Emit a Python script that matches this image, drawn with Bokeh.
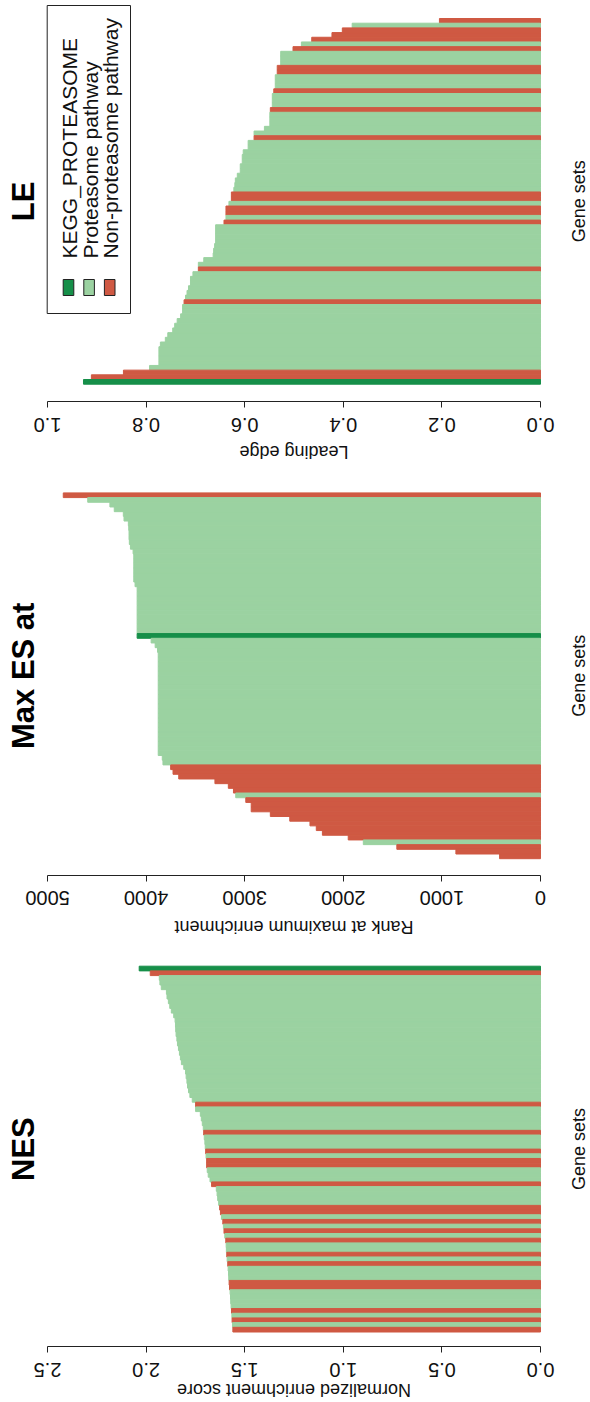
import math
from bokeh.plotting import figure
from bokeh.models import (ColumnDataSource, Range1d, FixedTicker, Label, LabelSet,
                          BoxAnnotation, CustomJSTickFormatter)
from bokeh.core.properties import value
from bokeh.layouts import column
from bokeh.embed import file_html
from bokeh.resources import INLINE

FONT = "Liberation Sans"

# ---------------- data ----------------
legend_names = ["KEGG_PROTEASOME", "Proteasome pathway", "Non-proteasome pathway"]
group_codes = ["K", "P", "N"]
group_colors = ["#168F49", "#9BD2A1", "#CF5943"]

panel_titles = ["LE", "Max ES at", "NES"]
axis_titles = ["Leading edge", "Rank at maximum enrichment", "Normalized enrichment score"]
bar_axis_title = "Gene sets"

le_ticks = [0, 0.2, 0.4, 0.6, 0.8, 1.0]
le_tick_labels = ["0.0", "0.2", "0.4", "0.6", "0.8", "1.0"]
maxes_ticks = [0, 1000, 2000, 3000, 4000, 5000]
maxes_tick_labels = ["0", "1000", "2000", "3000", "4000", "5000"]
nes_ticks = [0, 0.5, 1.0, 1.5, 2.0, 2.5]
nes_tick_labels = ["0.0", "0.5", "1.0", "1.5", "2.0", "2.5"]

# gene sets listed in drawing order, top to bottom
le_groups = list("NPNNNPNPPP" "NNPPPNPPPN" "PPPPPNPPPP" "PPPPPPPNNP"
                 "NNPNPPPPPP" "PPPNPPPPPP" "NPPPPPPPPP" "PPPPPNNK")
le_values = [0.205, 0.382, 0.402, 0.423, 0.464, 0.485, 0.502, 0.527, 0.527, 0.527,
             0.534, 0.534, 0.538, 0.538, 0.538, 0.541, 0.544, 0.544, 0.544, 0.548,
             0.549, 0.549, 0.549, 0.560, 0.581, 0.581, 0.593, 0.593, 0.603, 0.605,
             0.605, 0.609, 0.609, 0.615, 0.619, 0.620, 0.622, 0.627, 0.627, 0.632,
             0.638, 0.638, 0.638, 0.642, 0.659, 0.659, 0.659, 0.659, 0.661, 0.663,
             0.664, 0.683, 0.694, 0.694, 0.705, 0.710, 0.710, 0.714, 0.717, 0.720,
             0.723, 0.726, 0.726, 0.730, 0.737, 0.742, 0.746, 0.756, 0.761, 0.771,
             0.774, 0.774, 0.774, 0.774, 0.793, 0.846, 0.911, 0.927]

maxes_groups = list("N" "PPPPPPPPPPPPPPPPPPPPPPPPPPPPP" "K"
                    "PPPPPPPPPPPPPPPPPPPPPPPPPPP" "NNNNNN" "P" "NNNNNNNNN" "P" "NNN")
maxes_values = [4840, 4592, 4367, 4323, 4231, 4224, 4180, 4176, 4173, 4173,
                4170, 4159, 4132, 4125, 4125, 4125, 4125, 4125, 4125, 4112,
                4091, 4091, 4091, 4091, 4091, 4091, 4091, 4091, 4091, 4091,
                4091, 3949, 3908, 3884, 3877, 3877, 3877, 3877, 3877, 3877,
                3877, 3877, 3877, 3877, 3877, 3877, 3877, 3877, 3877, 3877,
                3877, 3877, 3877, 3877, 3877, 3877, 3836, 3829, 3751, 3727,
                3669, 3302, 3166, 3114, 3091, 2989, 2934, 2934, 2740, 2543,
                2338, 2274, 2212, 1950, 1797, 1457, 858, 415]

nes_groups = list("KN" "PPPPPPPPPPPPPPPPPPPPPPPPPPP" "N" "PPPPP" "N" "PPP" "N" "P" "NN"
                  "PPP" "N" "PPPP" "NN" "P" "N" "P" "N" "P" "N" "PP" "N" "P" "N" "PPP"
                  "NN" "PPPP" "N" "P" "N" "P" "N")
nes_values = [2.035, 1.979, 1.933, 1.930, 1.923, 1.897, 1.894, 1.887, 1.880, 1.872,
              1.860, 1.853, 1.851, 1.850, 1.848, 1.844, 1.841, 1.836, 1.831, 1.826,
              1.821, 1.809, 1.800, 1.797, 1.793, 1.790, 1.785, 1.778, 1.766, 1.749,
              1.749, 1.725, 1.720, 1.715, 1.710, 1.708, 1.705, 1.702, 1.700, 1.698,
              1.696, 1.693, 1.693, 1.690, 1.685, 1.676, 1.668, 1.644, 1.640, 1.637,
              1.632, 1.627, 1.623, 1.618, 1.611, 1.608, 1.605, 1.601, 1.596, 1.594,
              1.593, 1.591, 1.589, 1.586, 1.584, 1.582, 1.581, 1.579, 1.577, 1.574,
              1.572, 1.571, 1.569, 1.567, 1.565, 1.564, 1.562, 1.560]

# ---------------- layout constants (pixels) ----------------
FIG_W = 590
ZERO_PX = 540      # x pixel of value 0
MAX_PX = 47        # x pixel of the last tick


def make_panel(values, groups, ticks, tick_labels, title, axis_title,
               fig_h, bar_top, bar_bottom, axis_py, tick_py, atitle_py):
    n = len(values)
    xmax = ticks[-1]
    k = (ZERO_PX - MAX_PX) / xmax
    x_start = xmax + MAX_PX / k
    x_end = -(FIG_W - ZERO_PX) / k
    unit = (bar_bottom - bar_top) / n
    y_end = n + bar_top / unit
    y_start = y_end - fig_h / unit

    p = figure(width=FIG_W, height=fig_h,
               x_range=Range1d(x_start, x_end),
               y_range=Range1d(y_start, y_end),
               output_backend="svg", toolbar_location=None,
               x_axis_location="above", y_axis_location=None,
               min_border_left=0, min_border_right=0,
               min_border_top=0, min_border_bottom=0)
    p.outline_line_color = None
    p.grid.visible = False
    p.background_fill_color = "white"
    p.border_fill_color = "white"

    colors = [group_colors[group_codes.index(g)] for g in groups]
    ys = [n - i - 0.5 for i in range(n)]
    src = ColumnDataSource(dict(y=ys, v=values, color=colors))
    p.hbar(y="y", left=0, right="v", height=1.0, fill_color="color",
           line_color="color", line_width=1.0, source=src)

    # value axis: drawn at a fixed data location, ticks pointing downward
    ax = p.xaxis[0]
    ax.fixed_location = y_end - axis_py / unit
    ax.bounds = (ticks[0], ticks[-1])
    ax.ticker = FixedTicker(ticks=ticks, minor_ticks=[])
    ax.formatter = CustomJSTickFormatter(code="return ''")
    ax.major_label_text_font_size = "0px"
    ax.major_label_standoff = 0
    ax.major_tick_out = 0
    ax.major_tick_in = 6
    ax.minor_tick_out = 0
    ax.minor_tick_in = 0
    ax.axis_line_color = "#222222"
    ax.major_tick_line_color = "#222222"
    ax.axis_line_width = 1
    ax.axis_label = None

    # upside-down tick labels at the tick values
    tsrc = ColumnDataSource(dict(x=ticks, text=tick_labels))
    p.add_layout(LabelSet(x="x", y=fig_h - tick_py, y_units="screen", text="text", source=tsrc,
                          angle=math.pi, text_align="center", text_baseline="middle",
                          text_font=value(FONT), text_font_size="20px", text_color="#111111"))
    # upside-down axis title
    p.add_layout(Label(x=(ZERO_PX + MAX_PX) / 2, y=fig_h - atitle_py,
                       x_units="screen", y_units="screen",
                       text=axis_title, angle=math.pi, text_align="center",
                       text_baseline="middle", text_font=FONT,
                       text_font_size="18px", text_color="#111111"))
    center = fig_h - (bar_top + bar_bottom) / 2
    # panel title (left, reading upward)
    p.add_layout(Label(x=22.5, y=center, x_units="screen", y_units="screen",
                       text=title, angle=math.pi / 2, text_align="center",
                       text_baseline="middle", text_font=FONT,
                       text_font_style="bold", text_font_size="31px", text_color="#000000"))
    # bar axis title (right, reading upward)
    p.add_layout(Label(x=578, y=center, x_units="screen", y_units="screen",
                       text=bar_axis_title, angle=math.pi / 2, text_align="center",
                       text_baseline="middle", text_font=FONT,
                       text_font_size="18px", text_color="#111111"))
    return p


LE_H, MAX_H, NES_H = 470, 475, 456

p_le = make_panel(le_values, le_groups, le_ticks, le_tick_labels,
                  panel_titles[0], axis_titles[0], fig_h=LE_H,
                  bar_top=18.0, bar_bottom=383.7, axis_py=401, tick_py=424.5, atitle_py=451)
p_max = make_panel(maxes_values, maxes_groups, maxes_ticks, maxes_tick_labels,
                   panel_titles[1], axis_titles[1], fig_h=MAX_H,
                   bar_top=22.4, bar_bottom=388.2, axis_py=404.6, tick_py=427.5, atitle_py=456)
p_nes = make_panel(nes_values, nes_groups, nes_ticks, nes_tick_labels,
                   panel_titles[2], axis_titles[2], fig_h=NES_H,
                   bar_top=20.7, bar_bottom=386.5, axis_py=401, tick_py=424.5, atitle_py=444.5)

# ---------------- rotated legend inside the LE panel ----------------
p_le.add_layout(BoxAnnotation(left=46.7, right=130, top=LE_H - 5, bottom=LE_H - 313,
                              left_units="screen", right_units="screen",
                              bottom_units="screen", top_units="screen",
                              fill_color="white", fill_alpha=1.0,
                              line_color="#222222", line_alpha=1.0, line_width=1))
for i, (name, col) in enumerate(zip(legend_names, group_colors)):
    sw_left = 62.7 + 20.6 * i
    p_le.add_layout(BoxAnnotation(left=sw_left, right=sw_left + 10.6,
                                  top=LE_H - 279, bottom=LE_H - 295,
                                  left_units="screen", right_units="screen",
                                  bottom_units="screen", top_units="screen",
                                  fill_color=col, fill_alpha=1.0,
                                  line_color="#222222", line_alpha=1.0, line_width=1))
    p_le.add_layout(Label(x=sw_left + 6.3, y=LE_H - 258, x_units="screen", y_units="screen",
                          text=name, angle=math.pi / 2, text_align="left",
                          text_baseline="middle", text_font=FONT,
                          text_font_size="21px", text_color="#111111"))

layout = column(p_le, p_max, p_nes)
open("out.html", "w").write(file_html(layout, INLINE))
